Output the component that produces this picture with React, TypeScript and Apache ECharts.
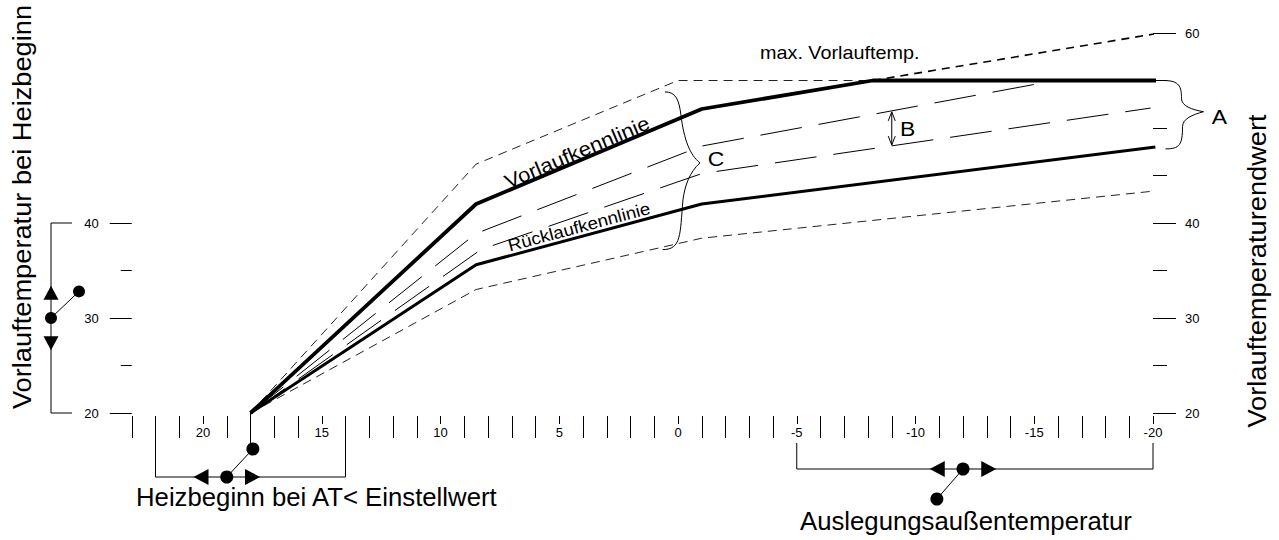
import React, { useEffect, useRef } from "react";
import * as echarts from "echarts";

// ---- axis ticks / labels ----
const outdoorTickLabels = [
  "23", "22", "21", "20", "19", "18", "17", "16", "15", "14", "13", "12", "11", "10", "9", "8", "7", "6", "5", "4", "3", "2", "1", "0",
  "-1", "-2", "-3", "-4", "-5", "-6", "-7", "-8", "-9", "-10", "-11", "-12", "-13", "-14", "-15", "-16", "-17", "-18", "-19", "-20",
];
const flowTickLabels = ["20", "25", "30", "35", "40", "45", "50", "55", "60"];
const flowLabelled = ["20", "30", "40", "60"];

// ---- curves: [outdoor temp °C, flow temp °C] ----
const flowLine = [[18, 20], [8.5, 42], [-1, 52], [-8.2, 55], [-20.4, 55]];
const returnLine = [[18, 20], [8.5, 35.6], [-1, 42], [-20.1, 48]];
const midUpper = [[18, 20], [8.5, 38.9], [-1, 48.1], [-15.9, 55]];
const midLower = [[18, 20], [8.3, 37.2], [-1, 45.2], [-19.9, 52.1]];
const envTop = [[18, 20], [8.5, 46.2], [0, 55], [-8.2, 55]];
const envBottom = [[18, 20], [8.5, 33], [-1, 38.4], [-20.2, 43.4]];
const maxExtension = [[-8.2, 55], [-20.3, 60]];

// ---- setting controls ----
const flowStartRange = [20, 40];
const flowStartArrows = [33.4, 26.6];
const flowStartKnob = 30;
const flowStartPointer = 32.8;

const heatStartRange = [22, 14];
const heatStartArrows = [20.4, 17.6];
const heatStartKnob = 19;
const heatStartPointer = 17.9;
const heatStartSetting = 18;

const designRange = [-5, -20];
const designArrows = [-10.6, -13.4];
const designKnob = -12;
const designPointer = -10.9;

// ---- annotations ----
const braceA = [[-20.4, 55], [-20.4, 47.8]];
const arrowB = [[-9, 51.7], [-9, 48.2]];
const braceC = [[0.55, 53.8], [0.65, 37.2]];

const FONT = '"Liberation Sans", Arial, Helvetica, sans-serif';

export default function App() {
  const ref = useRef<HTMLDivElement>(null);

  useEffect(() => {
    document.body.style.margin = "0";
    const chart = echarts.init(ref.current!, null, { renderer: "svg" });

    const lineSeries = (data: number[][], width: number, type: any, color = "#000") => ({
      type: "line",
      xAxisIndex: 1,
      yAxisIndex: 0,
      data,
      symbol: "none",
      silent: true,
      clip: false,
      lineStyle: { color, width, type, cap: "butt" },
    });

    chart.setOption({
      animation: false,
      backgroundColor: "#fff",
      grid: [
        { left: 131.75, right: 126, top: 33, height: 380 },
        { left: 131.75, width: 20, top: 223, height: 190 },
      ],
      xAxis: [
        {
          type: "category",
          gridIndex: 0,
          data: outdoorTickLabels,
          boundaryGap: false,
          position: "bottom",
          offset: 3,
          axisLine: { show: false, onZero: false },
          axisTick: {
            show: true,
            length: 22,
            interval: (_i: number, v: string) => Number(v) % 5 !== 0,
            lineStyle: { color: "#000", width: 1 },
          },
          axisLabel: { show: false },
          splitLine: { show: false },
        },
        {
          type: "value",
          gridIndex: 0,
          min: -20,
          max: 23,
          interval: 5,
          inverse: true,
          position: "bottom",
          offset: 3,
          axisLine: { show: false, onZero: false },
          axisTick: { show: true, length: 8, lineStyle: { color: "#000", width: 1 } },
          axisLabel: {
            margin: 10,
            fontSize: 13,
            fontFamily: FONT,
            color: "#000",
            formatter: (v: number) => (v % 5 === 0 ? String(v) : ""),
          },
          splitLine: { show: false },
        },
        {
          type: "value",
          gridIndex: 1,
          show: false,
          axisLine: { onZero: false },
        },
      ],
      yAxis: [
        {
          type: "value",
          gridIndex: 0,
          position: "right",
          min: 20,
          max: 60,
          interval: 5,
          axisLine: { show: false, onZero: false },
          axisTick: { show: true, length: 14, lineStyle: { color: "#000", width: 1 } },
          axisLabel: { show: false },
          splitLine: { show: false },
        },
        {
          type: "value",
          gridIndex: 1,
          position: "left",
          min: 20,
          max: 40,
          interval: 10,
          axisLine: { show: false, onZero: false },
          axisTick: { show: true, length: 22, lineStyle: { color: "#000", width: 1 } },
          minorTick: { show: true, splitNumber: 2, length: 11, lineStyle: { color: "#000", width: 1 } },
          axisLabel: { margin: 33, fontSize: 13, fontFamily: FONT, color: "#000" },
          splitLine: { show: false },
          minorSplitLine: { show: false },
        },
        {
          type: "category",
          gridIndex: 0,
          position: "right",
          data: flowTickLabels,
          boundaryGap: false,
          axisLine: { show: false, onZero: false },
          axisTick: {
            show: true,
            length: 23,
            interval: (_i: number, v: string) => flowLabelled.includes(v),
            lineStyle: { color: "#000", width: 1 },
          },
          axisLabel: {
            margin: 32,
            fontSize: 13,
            fontFamily: FONT,
            color: "#000",
            interval: (_i: number, v: string) => flowLabelled.includes(v),
          },
          splitLine: { show: false },
        },
      ],
      series: [
        lineSeries(envTop, 1, [9, 6], "#222"),
        lineSeries(envBottom, 1, [9, 6], "#222"),
        lineSeries(midUpper, 1, [42, 17]),
        lineSeries(midLower, 1, [42, 17]),
        lineSeries(maxExtension, 1.6, [8, 6]),
        lineSeries(returnLine, 3, "solid"),
        lineSeries(flowLine, 3.8, "solid"),
      ],
    });

    const P = (t: number, v: number) =>
      chart.convertToPixel({ xAxisIndex: 1, yAxisIndex: 0 }, [t, v]) as number[];
    const X = (t: number) => P(t, 20)[0];
    const YL = (v: number) => chart.convertToPixel({ yAxisIndex: 1 }, v) as number;

    const stroke = { stroke: "#000", lineWidth: 1, fill: "none" };
    const line = (x1: number, y1: number, x2: number, y2: number, w = 1) => ({
      type: "line",
      silent: true,
      shape: { x1, y1, x2, y2 },
      style: { stroke: "#000", lineWidth: w },
    });
    const poly = (points: number[][]) => ({
      type: "polygon",
      silent: true,
      shape: { points },
      style: { fill: "#000" },
    });
    const dot = (cx: number, cy: number, r = 6) => ({
      type: "circle",
      silent: true,
      shape: { cx, cy, r },
      style: { fill: "#000" },
    });
    const bez = (a: number[], c1: number[], c2: number[], b: number[]) => ({
      type: "bezierCurve",
      silent: true,
      shape: { x1: a[0], y1: a[1], cpx1: c1[0], cpy1: c1[1], cpx2: c2[0], cpy2: c2[1], x2: b[0], y2: b[1] },
      style: stroke,
    });
    const text = (
      s: string,
      x: number,
      y: number,
      size: number,
      align = "center",
      rotation = 0,
      scaleX = 1.09
    ) => ({
      type: "text",
      silent: true,
      x,
      y,
      rotation,
      scaleX,
      style: {
        text: s,
        fontSize: size,
        fontFamily: FONT,
        fill: "#000",
        align,
        verticalAlign: "middle",
        textAlign: align,
        textVerticalAlign: "middle",
      },
    });

    const els: any[] = [];

    // left control: Vorlauftemperatur bei Heizbeginn
    {
      const xL = 51;
      const y40 = YL(flowStartRange[1]);
      const y20 = YL(flowStartRange[0]);
      els.push({
        type: "polyline",
        silent: true,
        shape: { points: [[72, y40], [xL, y40], [xL, y20], [72, y20]] },
        style: stroke,
      });
      const yUp = YL(flowStartArrows[0]);
      const yDn = YL(flowStartArrows[1]);
      els.push(poly([[xL, yUp], [xL - 7.5, yUp + 14], [xL + 7.5, yUp + 14]]));
      els.push(poly([[xL, yDn], [xL - 7.5, yDn - 14], [xL + 7.5, yDn - 14]]));
      const yk = YL(flowStartKnob);
      const yp = YL(flowStartPointer);
      els.push(line(xL, yk, 79, yp));
      els.push(dot(xL, yk, 6));
      els.push(dot(79, yp, 6));
    }

    // bottom-left control: Heizbeginn
    {
      const yB = 477;
      const xa = X(heatStartRange[0]);
      const xb = X(heatStartRange[1]);
      els.push({
        type: "polyline",
        silent: true,
        shape: { points: [[xa, 437], [xa, yB], [xb, yB], [xb, 437]] },
        style: stroke,
      });
      const xl = X(heatStartArrows[0]);
      const xr = X(heatStartArrows[1]);
      els.push(poly([[xl, yB], [xl + 15, yB - 8], [xl + 15, yB + 8]]));
      els.push(poly([[xr, yB], [xr - 15, yB - 8], [xr - 15, yB + 8]]));
      const xs = X(heatStartSetting);
      els.push(line(xs, P(heatStartSetting, 20)[1], xs, 444));
      const xk = X(heatStartKnob);
      const xp = X(heatStartPointer);
      els.push(line(xk, yB, xp, 449));
      els.push(dot(xk, yB, 6.5));
      els.push(dot(xp, 449, 6.5));
    }

    // bottom-right control: Auslegungsaußentemperatur
    {
      const yB = 469;
      const xa = X(designRange[0]);
      const xb = X(designRange[1]);
      els.push({
        type: "polyline",
        silent: true,
        shape: { points: [[xa, 443], [xa, yB], [xb, yB], [xb, 443]] },
        style: stroke,
      });
      const xl = X(designArrows[0]);
      const xr = X(designArrows[1]);
      els.push(poly([[xl, yB], [xl + 15, yB - 8], [xl + 15, yB + 8]]));
      els.push(poly([[xr, yB], [xr - 15, yB - 8], [xr - 15, yB + 8]]));
      const xk = X(designKnob);
      const xp = X(designPointer);
      els.push(line(xk, yB, xp, 499));
      els.push(dot(xk, yB, 6.5));
      els.push(dot(xp, 499, 6.5));
    }

    // brace A
    {
      const [tx, ty] = P(braceA[0][0], braceA[0][1]);
      const [, by] = P(braceA[1][0], braceA[1][1]);
      const x0 = tx + 1;
      const mid = (ty + by) / 2 - 3;
      const tip = [x0 + 40, mid];
      els.push(bez([x0, ty], [x0 + 16, ty], [x0 + 18, ty + 6], [x0 + 18, mid - 13]));
      els.push(bez([x0 + 18, mid - 13], [x0 + 18, mid - 6], [x0 + 28, mid - 2], tip));
      els.push(bez(tip, [x0 + 29, mid + 3], [x0 + 19, mid + 7], [x0 + 19, mid + 15]));
      els.push(bez([x0 + 19, mid + 15], [x0 + 19, by - 4], [x0 + 16, by], [x0 + 2, by]));
      els.push(text("A", tip[0] + 16, mid + 5, 21));
    }

    // arrow B
    {
      const [x, y1] = P(arrowB[0][0], arrowB[0][1]);
      const [, y2] = P(arrowB[1][0], arrowB[1][1]);
      els.push(line(x, y1, x, y2));
      els.push({
        type: "polyline",
        silent: true,
        shape: { points: [[x - 3.5, y1 + 9], [x, y1], [x + 3.5, y1 + 9]] },
        style: stroke,
      });
      els.push({
        type: "polyline",
        silent: true,
        shape: { points: [[x - 3.5, y2 - 9], [x, y2], [x + 3.5, y2 - 9]] },
        style: stroke,
      });
      els.push(text("B", x + 16, (y1 + y2) / 2, 21));
    }

    // brace C
    {
      const [tx, ty] = P(braceC[0][0], braceC[0][1]);
      const [bx, by] = P(braceC[1][0], braceC[1][1]);
      const tip = [tx + 35, ty + 71];
      const m1 = [tx + 16, ty + 23];
      const m2 = [tx + 18, ty + 108];
      els.push(bez([tx, ty], [tx + 11, ty], [tx + 14, ty + 8], m1));
      els.push(bez(m1, [tx + 19, ty + 48], [tx + 25, ty + 63], tip));
      els.push(bez(tip, [tx + 25, ty + 80], [tx + 20, ty + 93], m2));
      els.push(bez(m2, [tx + 15, by - 15], [bx + 19, by], [bx, by]));
      els.push(text("C", tip[0] + 16, tip[1] - 4, 21));
    }

    // curve labels
    els.push(text("max. Vorlauftemp.", 760, 53, 18, "left", 0, 1.1));
    els.push(text("Vorlaufkennlinie", 577, 152, 20, "center", (23 * Math.PI) / 180, 1.1));
    els.push(text("Rücklaufkennlinie", 579, 227, 17, "center", (15 * Math.PI) / 180, 1.1));

    // axis titles
    els.push(text("Vorlauftemperatur bei Heizbeginn", 22, 207, 25, "center", Math.PI / 2, 1.09));
    els.push(text("Vorlauftemperaturendwert", 1257, 271, 25, "center", Math.PI / 2, 1.09));
    els.push(text("Heizbeginn bei AT< Einstellwert", 136, 497, 25, "left", 0, 1.03));
    els.push(text("Auslegungsaußentemperatur", 800, 521, 25, "left", 0, 1.03));

    chart.setOption({ graphic: { elements: els } });

    return () => {
      chart.dispose();
    };
  }, []);

  return <div ref={ref} style={{ width: 1279, height: 540 }} />;
}
